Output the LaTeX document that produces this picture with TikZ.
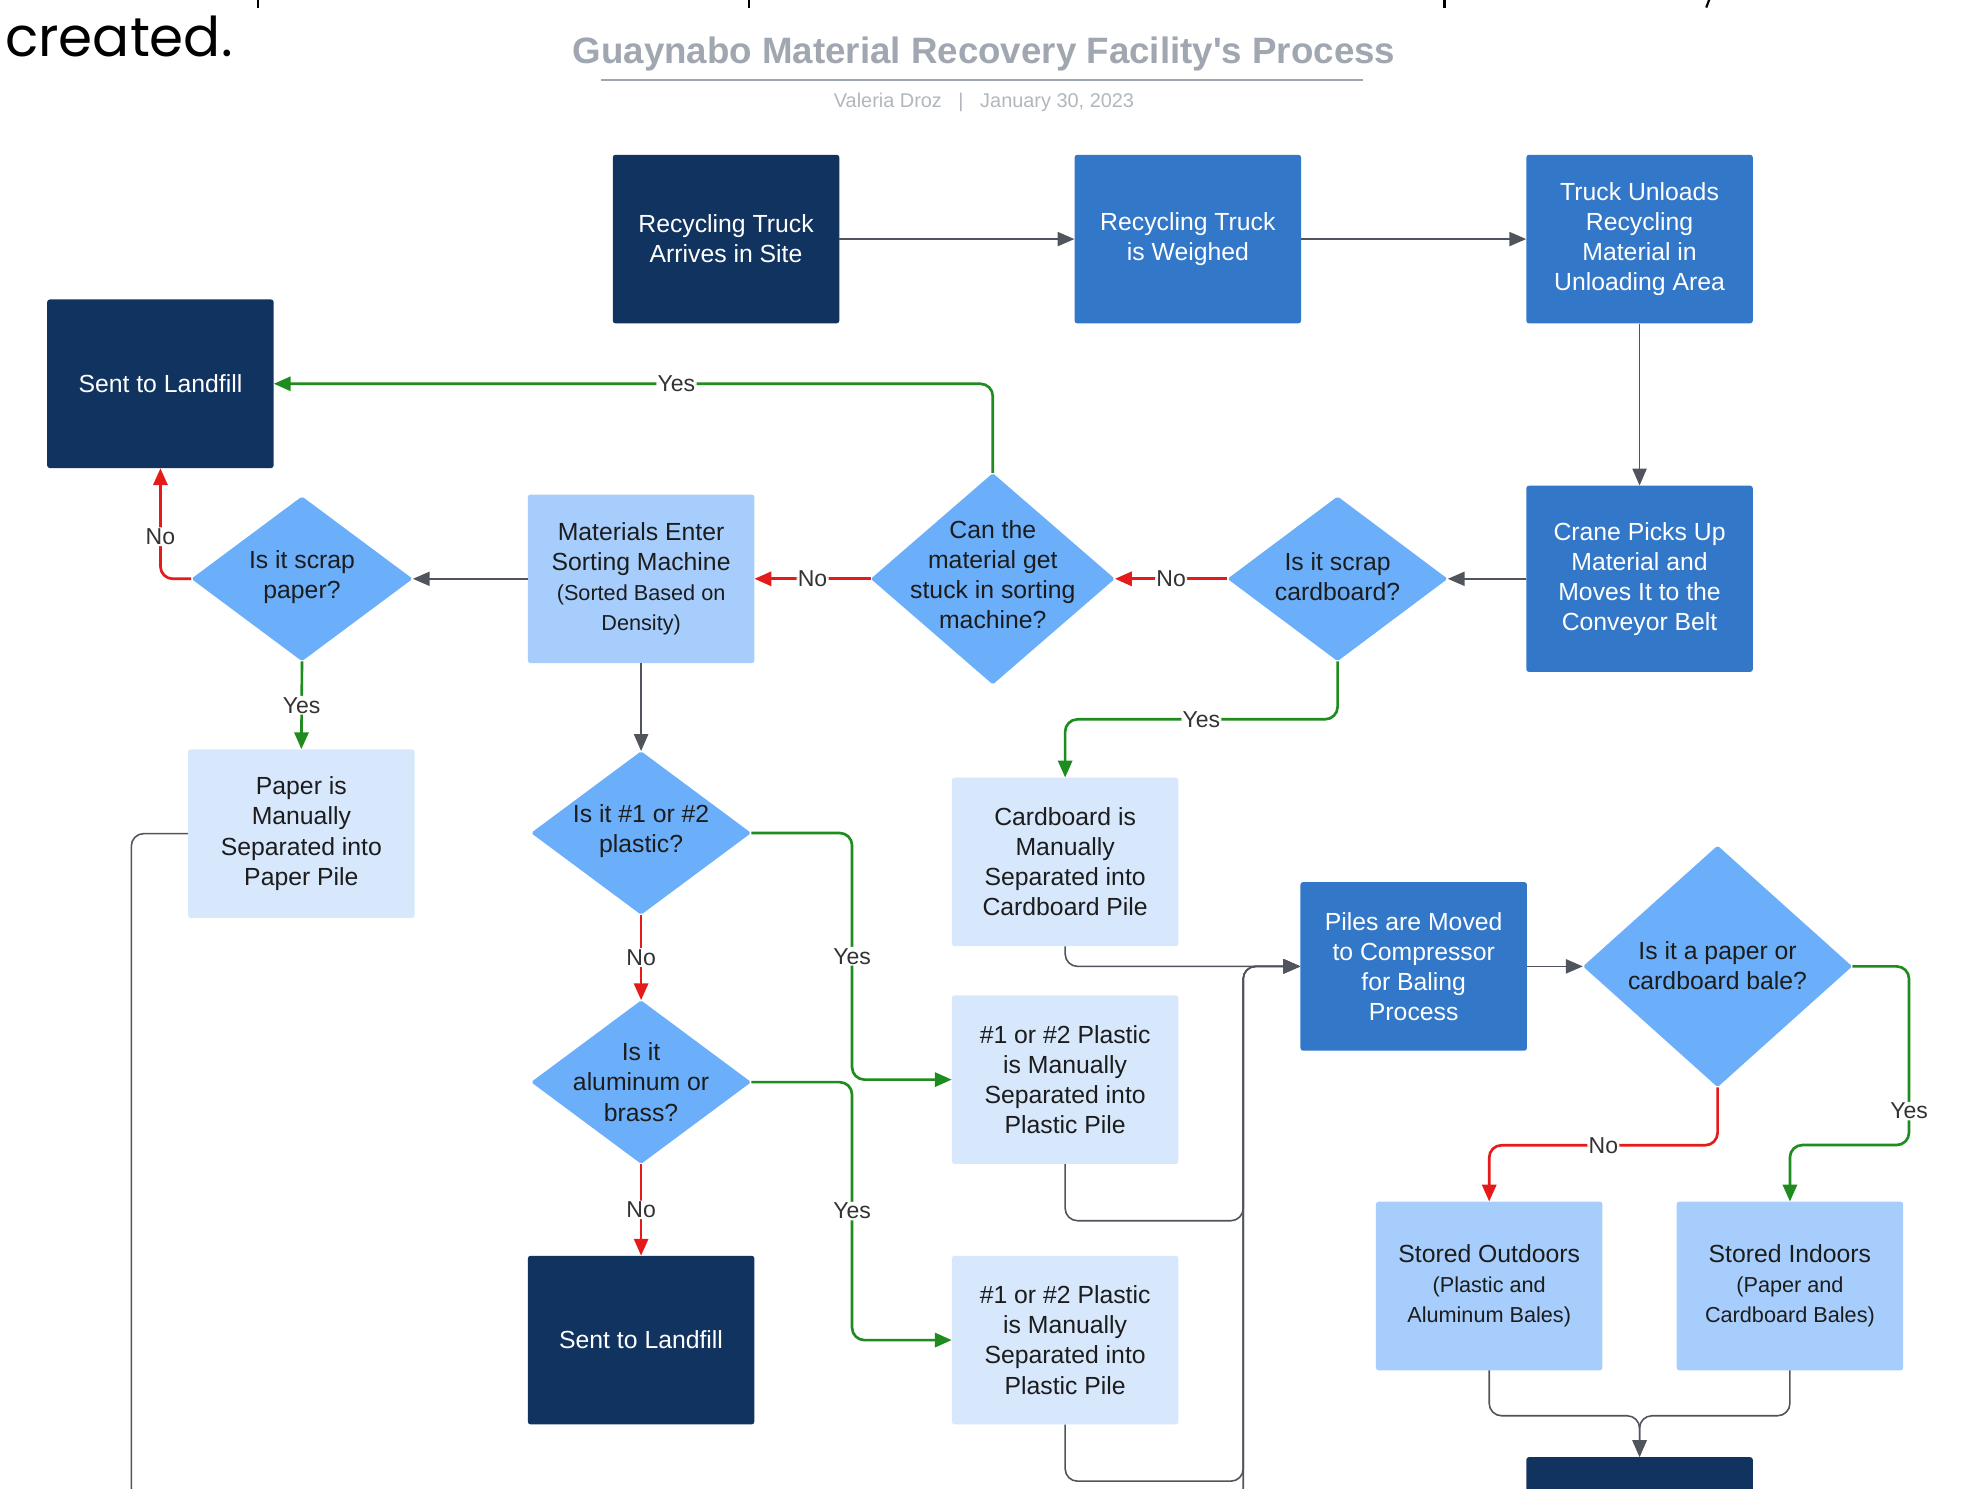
\documentclass[tikz,border=0pt]{standalone}
\usepackage{fontspec}
\setmainfont{Liberation Sans}
\newfontfamily\gothicfont{Poppins}
\usetikzlibrary{arrows.meta,shapes.geometric,calc}
\definecolor{cdark}{HTML}{11335F}
\definecolor{cmid}{HTML}{3277C8}
\definecolor{cdia}{HTML}{6BAFFA}
\definecolor{clight}{HTML}{A6CDFB}
\definecolor{cvlight}{HTML}{D7E8FD}
\definecolor{ctext}{HTML}{1C1C1C}
\definecolor{cgray}{HTML}{50555D}
\definecolor{cgreen}{HTML}{1E8C1E}
\definecolor{cred}{HTML}{E51B1B}
\definecolor{clabel}{HTML}{333333}
\definecolor{ctitle}{HTML}{A0A7B0}
\definecolor{csub}{HTML}{B2B7BE}
\newcommand\fmain{\fontsize{28}{34}\selectfont}
\newcommand\fsmall{\fontsize{24.5}{31}\selectfont}
\begin{document}
\begin{tikzpicture}[x=0.05cm,y=-0.05cm,
  box/.style={rectangle, rounded corners=3pt, minimum width=9cm, minimum height=6.7cm, align=center, inner sep=0pt, font=\fmain},
  darkbox/.style={box, fill=cdark, text=white},
  midbox/.style={box, fill=cmid, text=white},
  lightbox/.style={box, fill=clight, text=ctext},
  vlightbox/.style={box, fill=cvlight, text=ctext},
  dia/.style={diamond, fill=cdia, inner sep=0pt, rounded corners=2pt},
  diatext/.style={align=center, text=ctext, font=\fmain, inner sep=0pt},
  tip/.style={-{Triangle[length=19pt,width=16pt]}},
  gl/.style={draw=cgray, line width=1.8pt, tip, rounded corners=14pt},
  gr/.style={draw=cgreen, line width=3pt, tip, rounded corners=14pt},
  rd/.style={draw=cred, line width=3pt, tip, rounded corners=14pt},
  lbl/.style={fill=white, inner sep=1.5pt, font=\fontsize{26}{30}\selectfont, text=clabel},
]
\useasboundingbox (0,0) rectangle (1568,1183);
\clip (0,0) rectangle (1568,1183);
\fill[white] (0,0) rectangle (1568,1183);

% top fragments of previous text line
\foreach \xx in {205,595,1148} \draw[black, line width=2.5pt] (\xx,-2) -- (\xx,6);
\draw[black, line width=2.5pt] (1359,-2) -- (1356,6);

\node[anchor=base west, inner sep=0pt, font=\gothicfont\fontsize{62}{64}\selectfont] (created) at (4,45) {created.};

% title
\node[font=\bfseries\fontsize{41.5}{46}\selectfont, text=ctitle, inner sep=0pt] (title) at (782,43) {Guaynabo Material Recovery Facility\textquotesingle s Process};
\draw[ctitle, line width=2.6pt] (478,63.5) -- (1083,63.5);
\node[font=\fontsize{22.5}{26}\selectfont, text=csub, inner sep=0pt] (sub) at (782,81) {Valeria Droz\ \ \ |\ \ \ January 30, 2023};

% nodes
\node[darkbox] (A1) at (577,190) {Recycling Truck\\Arrives in Site};
\node[midbox] (A2) at (944,190) {Recycling Truck\\is Weighed};
\node[midbox] (A3) at (1303,190) {Truck Unloads\\Recycling\\Material in\\Unloading Area};
\node[midbox, minimum height=7.4cm] (A4) at (1303,460) {Crane Picks Up\\Material and\\Moves It to the\\Conveyor Belt};

\node[dia, minimum width=8.75cm, minimum height=6.55cm] (D5) at (1063,460) {};
\node[diatext] at ([yshift=2pt]D5.center) {Is it scrap\\cardboard?};
\node[dia, minimum width=9.7cm, minimum height=8.4cm] (D6) at (789,460) {};
\node[diatext] at ([yshift=5pt]D6.center) {Can the\\material get\\stuck in sorting\\machine?};

\node[darkbox] (L7) at (127.5,305) {Sent to Landfill};
\node[lightbox] (M8) at (509.5,460) {Materials Enter\\Sorting Machine\\{\fsmall (Sorted Based on}\\{\fsmall Density)}};
\node[dia, minimum width=8.8cm, minimum height=6.55cm] (D9) at (240,460) {};
\node[diatext] at ([yshift=2pt]D9.center) {Is it scrap\\paper?};
\node[vlightbox] (P10) at (239.5,662.5) {Paper is\\Manually\\Separated into\\Paper Pile};

\node[dia, minimum width=8.75cm, minimum height=6.5cm] (D11) at (509.5,662) {};
\node[diatext] at ([yshift=2pt]D11.center) {Is it \#1 or \#2\\plastic?};
\node[dia, minimum width=8.75cm, minimum height=6.5cm] (D12) at (509.5,860) {};
\node[diatext] at (D12.center) {Is it\\aluminum or\\brass?};
\node[darkbox] (L13) at (509.5,1065) {Sent to Landfill};

\node[vlightbox] (C14) at (846.5,685) {Cardboard is\\Manually\\Separated into\\Cardboard Pile};
\node[vlightbox] (P15) at (846.5,858) {\#1 or \#2 Plastic\\is Manually\\Separated into\\Plastic Pile};
\node[vlightbox] (P16) at (846.5,1065) {\#1 or \#2 Plastic\\is Manually\\Separated into\\Plastic Pile};

\node[midbox] (B17) at (1123.5,768) {Piles are Moved\\to Compressor\\for Baling\\Process};
\node[dia, minimum width=10.7cm, minimum height=9.6cm] (D18) at (1365,768) {};
\node[diatext] at ([yshift=1pt]D18.center) {Is it a paper or\\cardboard bale?};

\node[lightbox] (S19) at (1183.5,1022) {Stored Outdoors\\{\fsmall (Plastic and}\\{\fsmall Aluminum Bales)}};
\node[lightbox] (S20) at (1422.5,1022) {Stored Indoors\\{\fsmall (Paper and}\\{\fsmall Cardboard Bales)}};
\node[darkbox] (F21) at (1303,1225) {};

\coordinate (J) at (988,768);

% connectors
\draw[gl] (A1.east) -- (A2.west);
\draw[gl] (A2.east) -- (A3.west);
\draw[gl] (A3.south) -- (A4.north);
\draw[gl] (A4.west) -- (D5.east);
\draw[rd] (D5.west) -- node[lbl]{No} (D6.east);
\draw[rd] (D6.west) -- node[lbl]{No} (M8.east);
\draw[gr] (D6.north) |- node[lbl,pos=0.72]{Yes} (L7.east);
\draw[gl] (M8.west) -- (D9.east);
\draw[rd] (D9.west) -| node[lbl,pos=0.69]{No} (L7.south);
\draw[gr] (D9.south) -- node[lbl]{Yes} (P10.north);
\draw[gr] (D5.south) -- ++(0,46) -| node[lbl,pos=0.25]{Yes} (C14.north);
\draw[gl] (M8.south) -- (D11.north);
\draw[rd] (D11.south) -- node[lbl]{No} (D12.north);
\draw[gr] (D11.east) -- ++(80,0) |- node[lbl,pos=0.25]{Yes} (P15.west);
\draw[rd] (D12.south) -- node[lbl]{No} (L13.north);
\draw[gr] (D12.east) -- ++(80,0) |- node[lbl,pos=0.25]{Yes} (P16.west);

\draw[gl] (C14.south) |- (B17.west);
\draw[gl] (P15.south) -- ++(0,45) -| (J) -- (B17.west);
\draw[gl] (P16.south) -- ++(0,45) -| (J) -- (B17.west);
\draw[gl] (P10.west) -- ++(-45,0) -- ++(0,530) -| (J) -- (B17.west);

\draw[gl] (B17.east) -- (D18.west);
\draw[rd] (D18.south) -- ++(0,46) -| node[lbl,pos=0.25]{No} (S19.north);
\draw[gr] (D18.east) -- ++(45,0) -- node[lbl,pos=0.81]{Yes} ++(0,142) -| (S20.north);
\draw[gl] (S19.south) -- ++(0,36) -| (F21.north);
\draw[gl] (S20.south) -- ++(0,36) -| (F21.north);
\end{tikzpicture}
\end{document}
